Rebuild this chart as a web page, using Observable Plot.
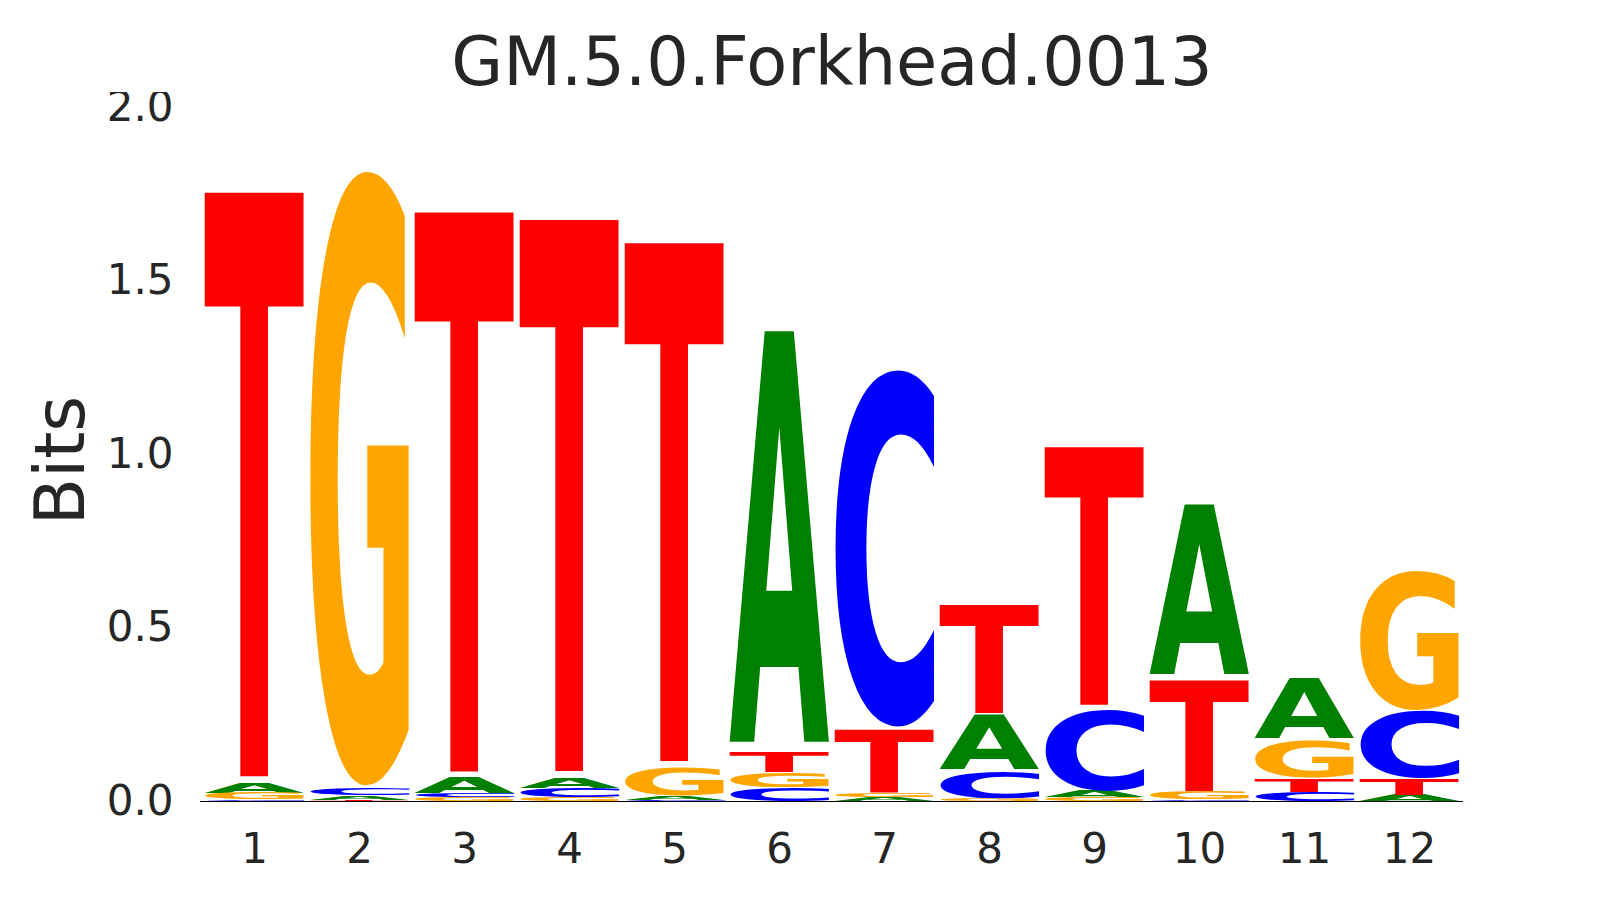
<!DOCTYPE html>
<html>
<head>
<meta charset="utf-8">
<script src="https://cdn.jsdelivr.net/npm/d3@7"></script>
<script src="https://cdn.jsdelivr.net/npm/@observablehq/plot@0.6"></script>
<style>
  html, body { margin: 0; padding: 0; background: white; }
  #title {
    margin-top: 32px;
    height: 60px;
    line-height: 60px;
    padding-left: 44px;
    text-align: center;
    font-family: "DejaVu Sans", sans-serif;
    font-size: 67px;
    color: #262626;
    white-space: nowrap;
  }
  #chart svg { display: block; }
</style>
</head>
<body>
<div id="title">GM.5.0.Forkhead.0013</div>
<div id="chart"></div>
<script>
const TITLE = "GM.5.0.Forkhead.0013";
const POSITIONS = [1, 2, 3, 4, 5, 6, 7, 8, 9, 10, 11, 12];
const BASES = ["A", "C", "G", "T"];
const BASE_COLORS = ["green", "blue", "orange", "red"];
// information (bits) per base at each position
const A_BITS = [0.032, 0.012, 0.045, 0.032, 0.013, 1.226, 0.011, 0.163, 0.018, 0.503, 0.178, 0.017];
const C_BITS = [0.004, 0.021, 0.013, 0.027, 0.002, 0.039, 1.052, 0.081, 0.240, 0.004, 0.026, 0.198];
const G_BITS = [0.018, 1.812, 0.010, 0.011, 0.085, 0.044, 0.013, 0.006, 0.012, 0.022, 0.110, 0.410];
const T_BITS = [1.742, 0.004, 1.669, 1.645, 1.545, 0.059, 0.186, 0.322, 0.768, 0.329, 0.040, 0.047];
const Y_TICKS = [0, 0.5, 1, 1.5, 2];
const VPAD = 0.01; // white space above and below each glyph, fraction of its height

const bitsByBase = { A: A_BITS, C: C_BITS, G: G_BITS, T: T_BITS };
const rows = POSITIONS.flatMap((pos, i) =>
  BASES.map(base => ({ pos, base, bits: bitsByBase[base][i] })));

// ink box of each glyph, so a letter can be stretched to fill its stack slot
const ctx = document.createElement("canvas").getContext("2d");
ctx.font = "bold 100px 'DejaVu Sans'";
const ink = {};
for (const b of BASES) {
  const m = ctx.measureText(b);
  ink[b] = {
    l: m.actualBoundingBoxLeft ?? -4,
    r: m.actualBoundingBoxRight ?? 74,
    a: m.actualBoundingBoxAscent ?? 73,
    d: m.actualBoundingBoxDescent ?? 0
  };
}
const colorToBase = new Map(BASE_COLORS.map((c, i) => [c, BASES[i]]));

const plot = Plot.plot({
  width: 1620,
  height: 808,
  marginLeft: 200,
  marginRight: 157,
  marginTop: 15,
  marginBottom: 99,
  style: { fontFamily: '"DejaVu Sans", sans-serif', color: "#262626", background: "white" },
  x: { type: "band", domain: POSITIONS, paddingInner: 0.05, paddingOuter: 0.025 },
  y: { domain: [0, 2] },
  color: { domain: BASES, range: BASE_COLORS },
  marks: [
    Plot.barY(rows, Plot.stackY({ x: "pos", y: "bits", fill: "base", order: "value" })),
    Plot.ruleY([0], { stroke: "black", strokeWidth: 1 }),
    Plot.axisX({ tickSize: 0, tickPadding: 32, fontSize: 42, label: null }),
    Plot.axisY({ ticks: Y_TICKS, tickFormat: d3.format(".1f"), tickSize: 0, tickPadding: 27, fontSize: 42, label: null }),
    Plot.text(["Bits"], {
      frameAnchor: "left", text: d => d, rotate: -90, textAnchor: "middle", lineAnchor: "middle",
      dx: -139, dy: 6, fontSize: 69
    })
  ]
});

// swap each stacked rect for its letter, stretched to the rect's box
const NS = "http://www.w3.org/2000/svg";
plot.querySelectorAll('g[aria-label="bar"] rect').forEach(rect => {
  const fill = rect.getAttribute("fill");
  const base = colorToBase.get(fill) ?? rows[rect.__data__]?.base;
  if (!base) return;
  const x = +rect.getAttribute("x"), y = +rect.getAttribute("y");
  const w = +rect.getAttribute("width"), h = +rect.getAttribute("height");
  const m = ink[base];
  const top = y + h * VPAD, hh = h * (1 - 2 * VPAD);
  const t = document.createElementNS(NS, "text");
  t.textContent = base;
  t.setAttribute("font-family", "DejaVu Sans");
  t.setAttribute("font-weight", "bold");
  t.setAttribute("font-size", "100");
  t.setAttribute("text-anchor", "start");
  t.setAttribute("fill", fill);
  t.setAttribute("transform",
    `translate(${x},${top}) scale(${w / (m.l + m.r)},${hh / (m.a + m.d)}) translate(${m.l},${m.a})`);
  rect.replaceWith(t);
});

document.getElementById("title").textContent = TITLE;
document.getElementById("chart").append(plot);
</script>
</body>
</html>
